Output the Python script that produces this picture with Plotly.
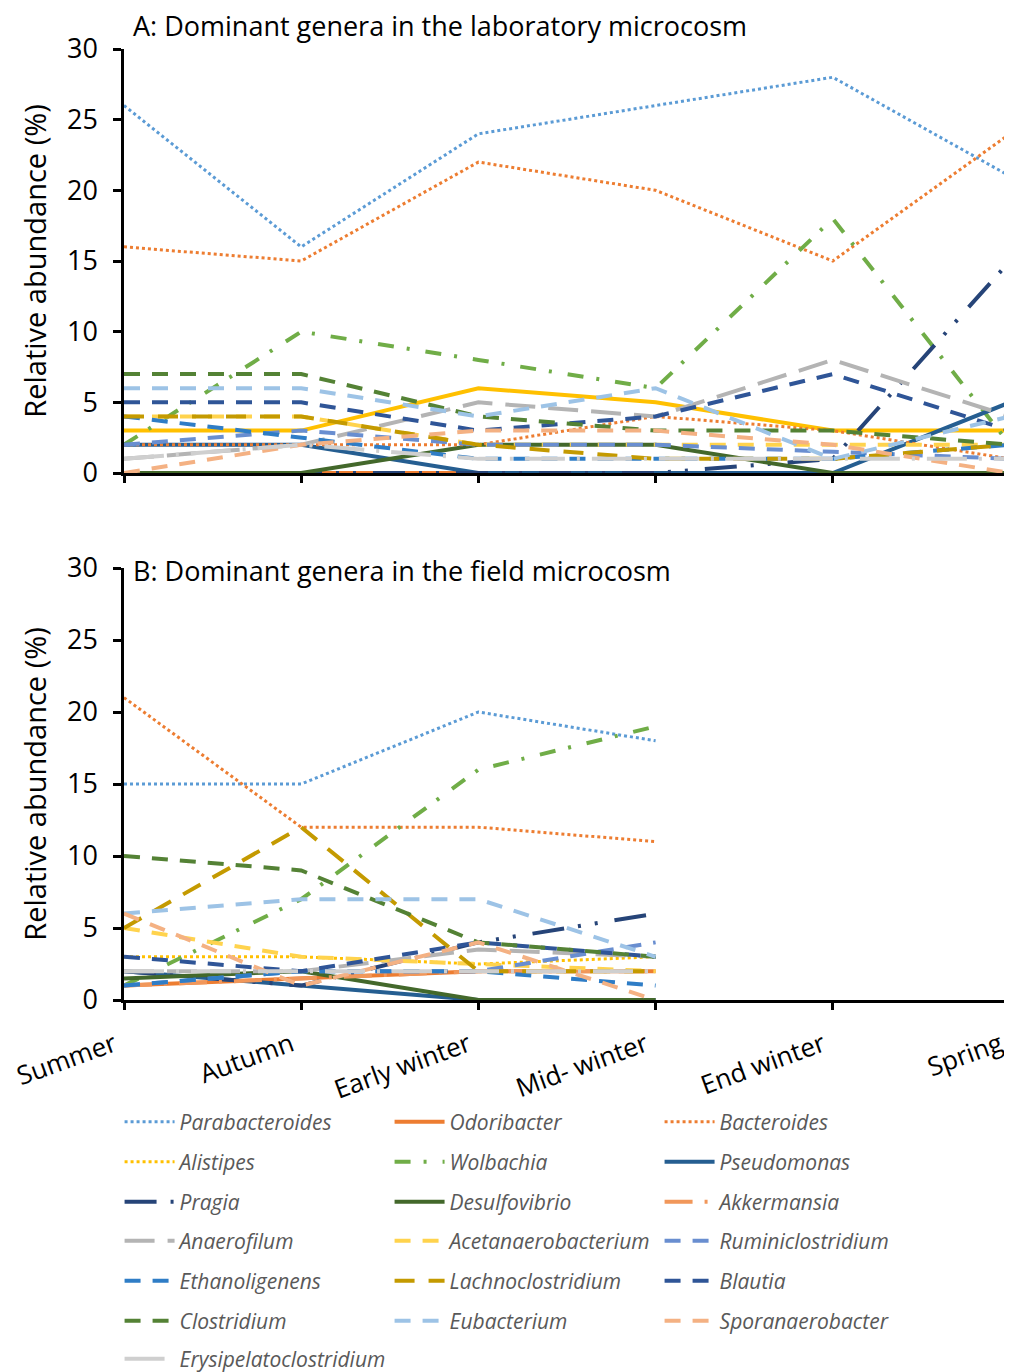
import plotly.graph_objects as go

SEASONS = ["Summer", "Autumn", "Early winter", "Mid- winter", "End winter", "Spring"]
SEASONS_FIELD = SEASONS[:4]

# ---- Panel A: laboratory microcosm (%), Summer..Spring ----
LAB_PARABACTEROIDES = [26, 16, 24, 26, 28, 21]
LAB_ODORIBACTER = [0, 0, 0, 0, 0, 0]
LAB_BACTEROIDES = [16, 15, 22, 20, 15, 24]
LAB_ALISTIPES = [3, 3, 6, 5, 3, 3]
LAB_WOLBACHIA = [2, 10, 8, 6, 18, 2]
LAB_PSEUDOMONAS = [2, 2, 0, 0, 0, 5]
LAB_PRAGIA = [0, 0, 0, 0, 1, 15]
LAB_DESULFOVIBRIO = [0, 0, 2, 2, 0, 0]
LAB_AKKERMANSIA = [2, 2, 2, 4, 3, 1]
LAB_ANAEROFILUM = [1, 2, 5, 4, 8, 4]
LAB_ACETANAEROBACTERIUM = [4, 4, 2, 2, 2, 2]
LAB_RUMINICLOSTRIDIUM = [2, 3, 2, 2, 1.5, 1]
LAB_ETHANOLIGENENS = [4, 2.5, 1, 1, 1, 2]
LAB_LACHNOCLOSTRIDIUM = [4, 4, 2, 1, 1, 2]
LAB_BLAUTIA = [5, 5, 3, 4, 7, 3]
LAB_CLOSTRIDIUM = [7, 7, 4, 3, 3, 2]
LAB_EUBACTERIUM = [6, 6, 4, 6, 1, 4]
LAB_SPORANAEROBACTER = [0, 2, 3, 3, 2, 0]
LAB_ERYSIPELATOCLOSTRIDIUM = [1, 2, 1, 1, 1, 1]

# ---- Panel B: field microcosm (%), Summer..Mid- winter ----
FIELD_PARABACTEROIDES = [15, 15, 20, 18]
FIELD_ODORIBACTER = [1, 1.5, 2, 2]
FIELD_BACTEROIDES = [21, 12, 12, 11]
FIELD_ALISTIPES = [3, 3, 2.5, 3]
FIELD_WOLBACHIA = [1, 7, 16, 19]
FIELD_PSEUDOMONAS = [2, 1, 0, 0]
FIELD_PRAGIA = [2, 1, 4, 6]
FIELD_DESULFOVIBRIO = [1.5, 2, 0, 0]
FIELD_AKKERMANSIA = [1, 1.5, 2, 2]
FIELD_ANAEROFILUM = [2, 2, 3.5, 3]
FIELD_ACETANAEROBACTERIUM = [5, 3, 2.5, 2]
FIELD_RUMINICLOSTRIDIUM = [1, 2, 2, 4]
FIELD_ETHANOLIGENENS = [1, 2, 2, 1]
FIELD_LACHNOCLOSTRIDIUM = [5, 12, 2, 2]
FIELD_BLAUTIA = [3, 2, 4, 3]
FIELD_CLOSTRIDIUM = [10, 9, 4, 3]
FIELD_EUBACTERIUM = [6, 7, 7, 3]
FIELD_SPORANAEROBACTER = [6, 1, 4, 0]
FIELD_ERYSIPELATOCLOSTRIDIUM = [2, 2, 2, 2]

GENERA = ["Parabacteroides", "Odoribacter", "Bacteroides", "Alistipes", "Wolbachia",
          "Pseudomonas", "Pragia", "Desulfovibrio", "Akkermansia", "Anaerofilum",
          "Acetanaerobacterium", "Ruminiclostridium", "Ethanoligenens",
          "Lachnoclostridium", "Blautia", "Clostridium", "Eubacterium",
          "Sporanaerobacter", "Erysipelatoclostridium"]

LAB = [LAB_PARABACTEROIDES, LAB_ODORIBACTER, LAB_BACTEROIDES, LAB_ALISTIPES, LAB_WOLBACHIA,
       LAB_PSEUDOMONAS, LAB_PRAGIA, LAB_DESULFOVIBRIO, LAB_AKKERMANSIA, LAB_ANAEROFILUM,
       LAB_ACETANAEROBACTERIUM, LAB_RUMINICLOSTRIDIUM, LAB_ETHANOLIGENENS,
       LAB_LACHNOCLOSTRIDIUM, LAB_BLAUTIA, LAB_CLOSTRIDIUM, LAB_EUBACTERIUM,
       LAB_SPORANAEROBACTER, LAB_ERYSIPELATOCLOSTRIDIUM]
FIELD = [FIELD_PARABACTEROIDES, FIELD_ODORIBACTER, FIELD_BACTEROIDES, FIELD_ALISTIPES,
         FIELD_WOLBACHIA, FIELD_PSEUDOMONAS, FIELD_PRAGIA, FIELD_DESULFOVIBRIO,
         FIELD_AKKERMANSIA, FIELD_ANAEROFILUM, FIELD_ACETANAEROBACTERIUM,
         FIELD_RUMINICLOSTRIDIUM, FIELD_ETHANOLIGENENS, FIELD_LACHNOCLOSTRIDIUM,
         FIELD_BLAUTIA, FIELD_CLOSTRIDIUM, FIELD_EUBACTERIUM, FIELD_SPORANAEROBACTER,
         FIELD_ERYSIPELATOCLOSTRIDIUM]

DOT = "3px,3px"
DASH = "16px,12px"
STYLES = {
    "Parabacteroides": ("#5B9BD5", DOT, 3),
    "Odoribacter": ("#ED7D31", "solid", 4),
    "Bacteroides": ("#ED7D31", DOT, 3),
    "Alistipes": ("#FFC000", DOT, 3),
    "Wolbachia": ("#70AD47", "16px,13px,3px,16px", 4),
    "Pseudomonas": ("#255E91", "solid", 4),
    "Pragia": ("#264478", "32px,14px,3px,14px,3px,17px", 4),
    "Desulfovibrio": ("#43682B", "solid", 4),
    "Akkermansia": ("#F1975A", "28px,12px,3px,12px", 4),
    "Anaerofilum": ("#B4B4B4", "30px,13px", 4),
    "Acetanaerobacterium": ("#FFD34D", DASH, 4),
    "Ruminiclostridium": ("#698ED0", DASH, 4),
    "Ethanoligenens": ("#2F7DC6", DASH, 4),
    "Lachnoclostridium": ("#C49A00", "20px,14px", 4),
    "Blautia": ("#2F5597", DASH, 4),
    "Clostridium": ("#548235", DASH, 4),
    "Eubacterium": ("#9DC3E6", DASH, 4),
    "Sporanaerobacter": ("#F4B183", DASH, 4),
    "Erysipelatoclostridium": ("#CFCFCF", "40px,12px,3px,12px", 4),
}
# Panel A draws some series with a different line style than the shared legend
LAB_STYLE_OVERRIDE = {
    "Alistipes": ("#FFC000", "solid", 4),
    "Akkermansia": ("#ED7D31", DOT, 3),
}

FONT = "Open Sans"
# The page body has an 8px margin, so the figure is 8px smaller each way
W, H = 1004, 1364
L, R, T, B = 116, 2, 41, 372
PH = H - T - B  # plot-area height in px (951)
PW = W - L - R


def py(ypx_screen):
    # screen y (reference picture) -> paper fraction
    return (1000 - ypx_screen) / PH


def px(xpx_screen):
    return (xpx_screen - 124) / PW


fig = go.Figure()

for i, name in enumerate(GENERA):
    col, dash, wid = LAB_STYLE_OVERRIDE.get(name, STYLES[name])
    fig.add_trace(go.Scatter(x=SEASONS, y=LAB[i], mode="lines", name=name,
                             line=dict(color=col, dash=dash, width=wid),
                             xaxis="x", yaxis="y", showlegend=False))

for i, name in enumerate(GENERA):
    col, dash, wid = STYLES[name]
    row = i // 3 + 1
    fig.add_trace(go.Scatter(x=SEASONS_FIELD, y=FIELD[i], mode="lines", name=name,
                             line=dict(color=col, dash=dash, width=wid),
                             xaxis="x2", yaxis="y2", showlegend=True,
                             legend="legend" if row == 1 else f"legend{row}"))

axis_common = dict(showline=True, linecolor="black", linewidth=2.5, ticks="outside",
                   tickcolor="black", tickwidth=2.5, showgrid=False, zeroline=False,
                   layer="below traces")
x_common = dict(type="category", categoryorder="array", categoryarray=SEASONS,
                range=[0, 5], ticklen=7, **axis_common)
y_common = dict(range=[0, 30], tickvals=[0, 5, 10, 15, 20, 25, 30], ticklen=8,
                tickfont=dict(family=FONT, size=27, color="black"),
                ticklabelstandoff=10,
                title=dict(text="Relative abundance (%)", standoff=12,
                           font=dict(family=FONT, size=29, color="black")),
                **axis_common)

dom_a = [py(473), 1]
dom_b = [0, py(568)]

layout = dict(
    width=W, height=H,
    margin=dict(l=L, r=R, t=T, b=B, autoexpand=False),
    paper_bgcolor="white", plot_bgcolor="white",
    font=dict(family=FONT, color="black"),
    xaxis=dict(domain=[0, 1], anchor="y", showticklabels=False, **x_common),
    yaxis=dict(domain=dom_a, anchor="x", **y_common),
    xaxis2=dict(domain=[0, 1], anchor="y2", tickangle=-20, ticklabelshift=-10,
                ticklabelstandoff=10,
                tickfont=dict(family=FONT, size=26, color="black"), **x_common),
    yaxis2=dict(domain=dom_b, anchor="x2", **y_common),
    annotations=[
        dict(text="A: Dominant genera in the laboratory microcosm", xref="paper", yref="paper",
             x=px(131), y=py(26), xanchor="left", yanchor="middle",
             showarrow=False, font=dict(family=FONT, size=27, color="black")),
        dict(text="B: Dominant genera in the field microcosm", xref="paper", yref="paper",
             x=px(131), y=py(571), xanchor="left", yanchor="middle",
             showarrow=False, font=dict(family=FONT, size=27, color="black")),
    ],
)

ROW_Y = [1122, 1162, 1202, 1241, 1281, 1321, 1359]
for r, ypx in enumerate(ROW_Y, start=1):
    key = "legend" if r == 1 else f"legend{r}"
    layout[key] = dict(orientation="h", x=-0.005, xanchor="left", y=py(ypx), yanchor="middle",
                       entrywidth=205, entrywidthmode="pixels", itemwidth=50,
                       traceorder="normal", bgcolor="rgba(0,0,0,0)",
                       font=dict(family=FONT, size=21, color="#595959", style="italic"))

fig.update_layout(**layout)
fig.write_html("out.html")
